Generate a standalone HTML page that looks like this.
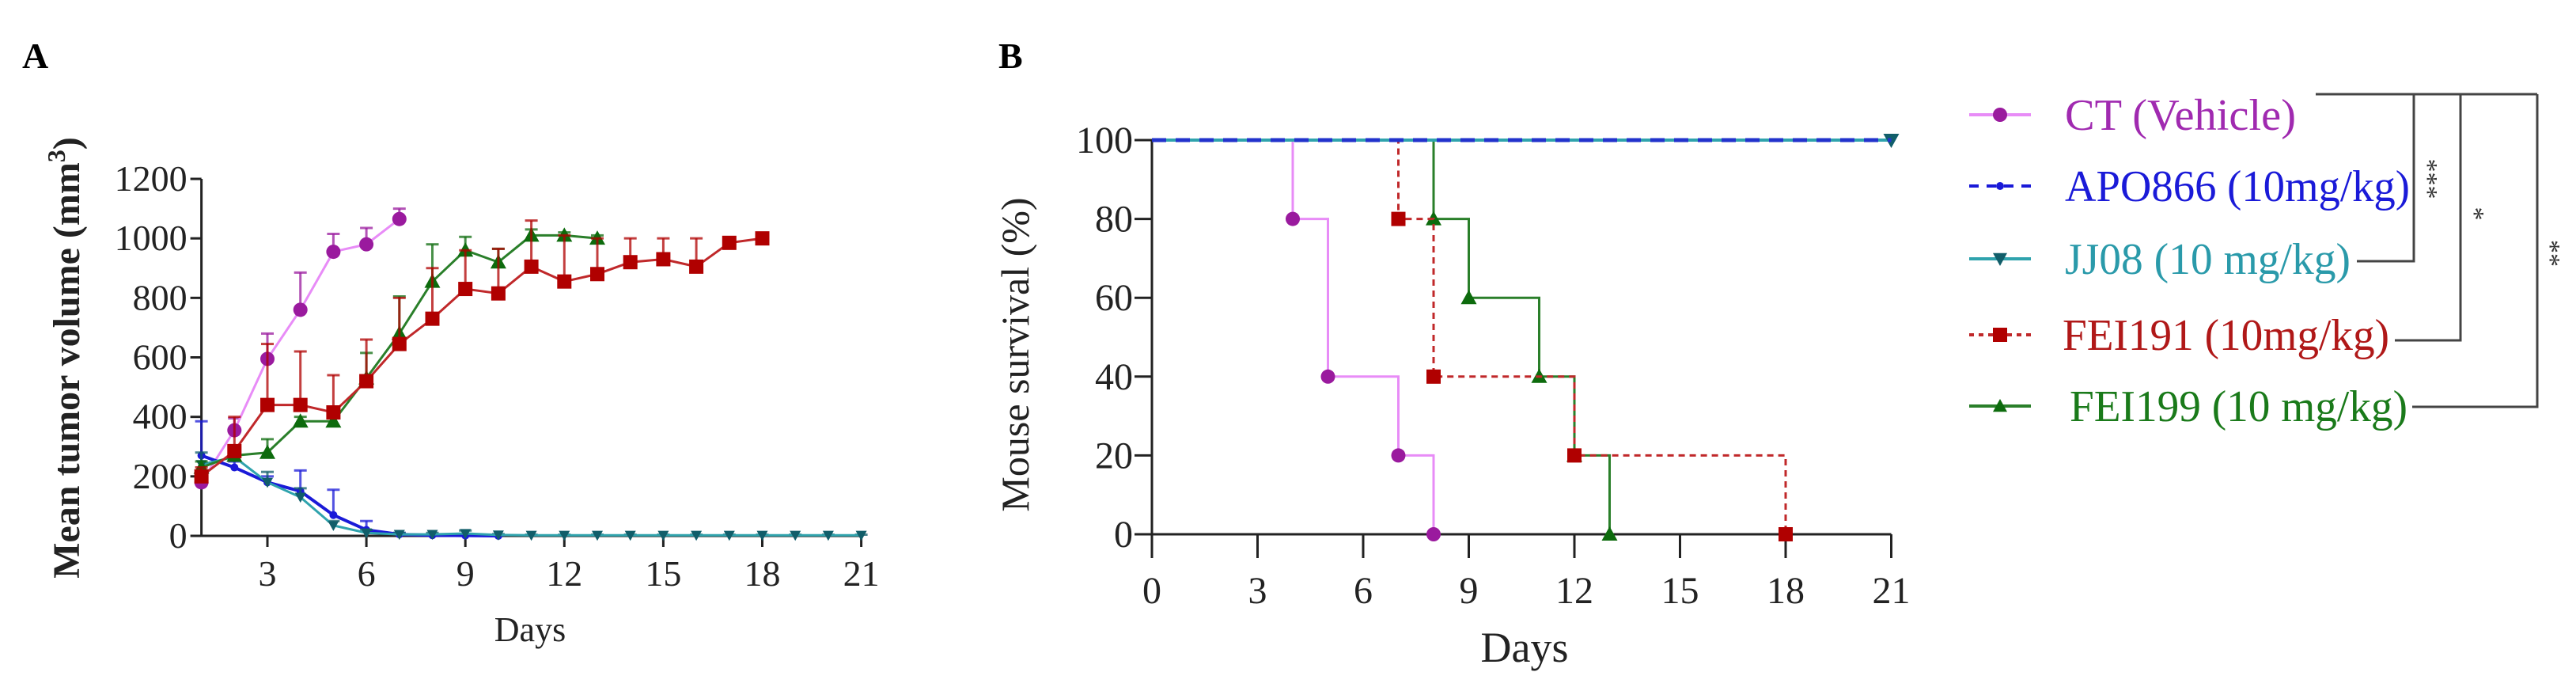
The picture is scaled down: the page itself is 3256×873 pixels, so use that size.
<!DOCTYPE html>
<html><head><meta charset="utf-8"><style>
html,body{margin:0;padding:0;background:#fff;}
svg{display:block;font-family:"Liberation Serif",serif;}
</style></head><body>
<svg id="fig" width="3256" height="873" viewBox="0 0 3256 873" xmlns="http://www.w3.org/2000/svg">
<text x="28" y="86" font-size="46" font-weight="bold">A</text>
<text x="1262" y="86" font-size="46" font-weight="bold">B</text>
<g id="A"></g>
<g id="B"></g>
<g id="L"></g>
</svg>
<script>
// ---- Panel A data ----
const aYTicks = [0,200,400,600,800,1000,1200];
const aXTicks = [3,6,9,12,15,18,21];
const ctDays = [1,2,3,4,5,6,7];
const ctVals = [180,355,595,760,955,980,1065];
const ctErr = [200,395,680,885,1015,1035,1100];
const apoDays = [1,2,3,4,5,6,7,8,9,10];
const apoVals = [270,230,180,150,70,20,5,2,1,0];
const apoErr = [385,250,200,220,155,50,10,5,5,2];
const jjDays = [1,2,3,4,5,6,7,8,9,10,11,12,13,14,15,16,17,18,19,20,21];
const jjVals = [240,265,180,130,35,10,5,5,8,3,2,2,2,2,2,2,2,2,2,2,2];
const jjErr = [280,290,215,160,50,20,10,10,18,6,4,4,4,4,4,4,4,4,4,4,4];
const f191Days = [1,2,3,4,5,6,7,8,9,10,11,12,13,14,15,16,17,18];
const f191Vals = [200,285,440,440,415,520,645,730,830,815,905,855,880,920,930,905,985,1000];
const f191Err = [230,400,645,620,540,660,800,900,960,965,1060,1010,1000,1000,1000,1000,1000,1000];
const f199Days = [1,2,3,4,5,6,7,8,9,10,11,12,13];
const f199Vals = [230,270,280,385,385,530,680,855,960,920,1010,1010,1000];
const f199Err = [250,300,325,400,420,615,805,980,1005,965,1030,1020,1010];
// ---- Panel B data ----
const bYTicks = [0,20,40,60,80,100];
const bXTicks = [0,3,6,9,12,15,18,21];
const ctStepDays = [0,4,5,7,8];
const ctStepVals = [100,80,40,20,0];
const f191StepDays = [0,7,8,12,18];
const f191StepVals = [100,80,40,20,0];
const f199StepDays = [0,8,9,11,12,13];
const f199StepVals = [100,80,60,40,20,0];
const apoStepDays = [0,21];
const apoStepVals = [100,100];
const jjStepDays = [0,21];
const jjStepVals = [100,100];

const NS='http://www.w3.org/2000/svg';
function mk(parent,tag,attrs,text){const e=document.createElementNS(NS,tag);for(const k in attrs)e.setAttribute(k,attrs[k]);if(text!==undefined)e.textContent=text;parent.appendChild(e);return e;}

const C={ctLine:'#e88cf7',ctMk:'#9a1a9e',apo:'#1a1ad8',jj:'#2fa3ad',jjMk:'#115e6a',red:'#b00000',redLine:'#c0282a',green:'#0d6b0d',greenLine:'#2a7f2a'};

// ---------- Panel A ----------
const A=document.getElementById('A');
const ax=d=>254.6+(d-1)*41.7, ay=v=>677-v*451/1200;
let e;
e=mk(A,'line',{x1:ax(1),y1:ay(0),x2:ax(21),y2:ay(0),stroke:'#222','stroke-width':3});

e=mk(A,'line',{x1:ax(1),y1:ay(0)+1,x2:ax(1),y2:ay(1200),stroke:'#222','stroke-width':3});

aYTicks.forEach(t=>{mk(A,'line',{x1:ax(1)-14,x2:ax(1),y1:ay(t),y2:ay(t),stroke:'#222','stroke-width':3});
 e=mk(A,'text',{x:ax(1)-18,y:ay(t)+15,'font-size':46,'text-anchor':'end',fill:'#222'},t);
 });
aXTicks.forEach(t=>{mk(A,'line',{x1:ax(t),x2:ax(t),y1:ay(0),y2:ay(0)+14,stroke:'#222','stroke-width':3});
 e=mk(A,'text',{x:ax(t),y:740,'font-size':46,'text-anchor':'middle',fill:'#222'},t);
 });
e=mk(A,'text',{x:670,y:810,'font-size':44,'text-anchor':'middle',fill:'#222'},'Days');

e=mk(A,'text',{transform:'translate(100,452) rotate(-90)','font-size':48,'font-weight':'bold','text-anchor':'middle',fill:'#222'});

e.innerHTML='Mean tumor volume (mm<tspan dy="-18" font-size="32">3</tspan><tspan dy="18">)</tspan>';

function marker(g,shape,x,y,col,s){
 if(shape==='circle')return mk(g,'circle',{cx:x,cy:y,r:s,fill:col});
 if(shape==='square')return mk(g,'rect',{x:x-s,y:y-s,width:2*s,height:2*s,fill:col});
 if(shape==='tri')return mk(g,'polygon',{points:`${x-s},${y+s*0.8} ${x+s},${y+s*0.8} ${x},${y-s}`,fill:col});
 if(shape==='tridown')return mk(g,'polygon',{points:`${x-s},${y-s*0.8} ${x+s},${y-s*0.8} ${x},${y+s}`,fill:col});
 if(shape==='dot')return mk(g,'circle',{cx:x,cy:y,r:s,fill:col});
}
function seriesA(name,days,vals,errs,line,mcol,shape,size,lw){
 const g=mk(A,'g',{});
 days.forEach((d,i)=>{const x=ax(d);mk(g,'line',{x1:x,x2:x,y1:ay(vals[i]),y2:ay(errs[i]),stroke:mcol,'stroke-width':3,opacity:0.75});
  mk(g,'line',{x1:x-8,x2:x+8,y1:ay(errs[i]),y2:ay(errs[i]),stroke:mcol,'stroke-width':3,opacity:0.75});});
 mk(g,'polyline',{points:days.map((d,i)=>ax(d)+','+ay(vals[i])).join(' '),fill:'none',stroke:line,'stroke-width':lw});
 days.forEach((d,i)=>{const m=marker(g,shape,ax(d),ay(vals[i]),mcol,size);
  });
}
seriesA('ct-series',ctDays,ctVals,ctErr,C.ctLine,C.ctMk,'circle',9,3);
seriesA('apo866-series',apoDays,apoVals,apoErr,C.apo,C.apo,'dot',5,4);
seriesA('jj08-series',jjDays,jjVals,jjErr,C.jj,C.jjMk,'tridown',7,3);
seriesA('fei199-series',f199Days,f199Vals,f199Err,C.greenLine,C.green,'tri',10,3);
seriesA('fei191-series',f191Days,f191Vals,f191Err,C.redLine,C.red,'square',9,3);

// ---------- Panel B ----------
const B=document.getElementById('B');
const bx=d=>1456+d*44.5, by=v=>675-v*4.98;
e=mk(B,'line',{x1:bx(0),y1:by(0),x2:bx(21),y2:by(0),stroke:'#222','stroke-width':3});

e=mk(B,'line',{x1:bx(0),y1:by(0)+30,x2:bx(0),y2:by(100),stroke:'#222','stroke-width':3});

bYTicks.forEach(t=>{mk(B,'line',{x1:bx(0)-22,x2:bx(0),y1:by(t),y2:by(t),stroke:'#222','stroke-width':3});
 e=mk(B,'text',{x:bx(0)-24,y:by(t)+16,'font-size':48,'text-anchor':'end',fill:'#222'},t);
 });
bXTicks.forEach(t=>{mk(B,'line',{x1:bx(t),x2:bx(t),y1:by(0),y2:by(0)+30,stroke:'#222','stroke-width':3});
 e=mk(B,'text',{x:bx(t),y:762,'font-size':48,'text-anchor':'middle',fill:'#222'},t);
 });
e=mk(B,'text',{x:1927,y:836,'font-size':54,'text-anchor':'middle',fill:'#222'},'Days');

e=mk(B,'text',{transform:'translate(1300,448) rotate(-90)','font-size':50,'text-anchor':'middle',fill:'#222'},'Mouse survival (%)');


function stepPts(days,vals,end){let p=[];for(let i=0;i<days.length;i++){if(i>0)p.push([bx(days[i]),by(vals[i-1])]);p.push([bx(days[i]),by(vals[i])]);}
 if(end!==undefined)p.push([bx(end),by(vals[vals.length-1])]);return p.map(q=>q.join(',')).join(' ');}
function seriesB(name,days,vals,line,mcol,shape,size,dash,lw){
 const g=mk(B,'g',{});
 const a={points:stepPts(days,vals),fill:'none',stroke:line,'stroke-width':lw};if(dash)a['stroke-dasharray']=dash;
 mk(g,'polyline',a);
 days.forEach((d,i)=>{if(i===0)return;const m=marker(g,shape,bx(d),by(vals[i]),mcol,size);
  });
}
seriesB('b-ct-series',ctStepDays,ctStepVals,C.ctLine,C.ctMk,'circle',9,null,3);
seriesB('b-fei199-series',f199StepDays,f199StepVals,C.greenLine,C.green,'tri',10,null,3);
seriesB('b-fei191-series',f191StepDays,f191StepVals,C.redLine,C.red,'square',9,'8,6',3);
seriesB('b-jj08-series',jjStepDays,jjStepVals,C.jj,C.jjMk,'tridown',10,null,4);
seriesB('b-apo866-series',apoStepDays,apoStepVals,'#2233cc','#2233cc','dot',0.1,'18,12',5);

// ---------- Legend ----------
const L=document.getElementById('L');
const legLabels=['CT (Vehicle)','APO866 (10mg/kg)','JJ08 (10 mg/kg)','FEI191 (10mg/kg)','FEI199 (10 mg/kg)'];
const legColors=['#a02ab0','#1a1ad8','#2a9aaa','#b01818','#1a7a1a'];
const legLine=[C.ctLine,C.apo,C.jj,C.redLine,C.greenLine];
const legMk=[C.ctMk,C.apo,C.jjMk,C.red,C.green];
const legShape=['circle','dot','tridown','square','tri'];
const legDash=[null,'12,10',null,'6,6',null];
const legY=[145,235,327,423,513];
const legX=[2610,2610,2610,2607,2616];
const legW=[292,436,361,413,427];
legLabels.forEach((t,i)=>{const g=mk(L,'g',{});
 const a={x1:2489,x2:2567,y1:legY[i],y2:legY[i],stroke:legLine[i],'stroke-width':4};if(legDash[i])a['stroke-dasharray']=legDash[i];
 mk(g,'line',a);marker(g,legShape[i],2528,legY[i],legMk[i],legShape[i]==='dot'?5:9);
 mk(g,'text',{x:legX[i],y:legY[i]+19,'font-size':56,fill:legColors[i],textLength:legW[i],lengthAdjust:'spacingAndGlyphs'},t);});
const br=mk(L,'g',{stroke:'#444','stroke-width':3,fill:'none'});

mk(br,'polyline',{points:'2927,119 3207,119'});
mk(br,'polyline',{points:'3051,119 3051,330 2979,330'});
mk(br,'polyline',{points:'3110,119 3110,430 3027,430'});
mk(br,'polyline',{points:'3207,119 3207,514 3049,514'});
[['***',3058,226],['*',3117,270],['**',3213,320]].forEach(s=>{
 e=mk(L,'text',{transform:`translate(${s[1]},${s[2]}) rotate(90)`,'font-size':34,'text-anchor':'middle',fill:'#333'},s[0]);
 });
</script>
</body></html>
